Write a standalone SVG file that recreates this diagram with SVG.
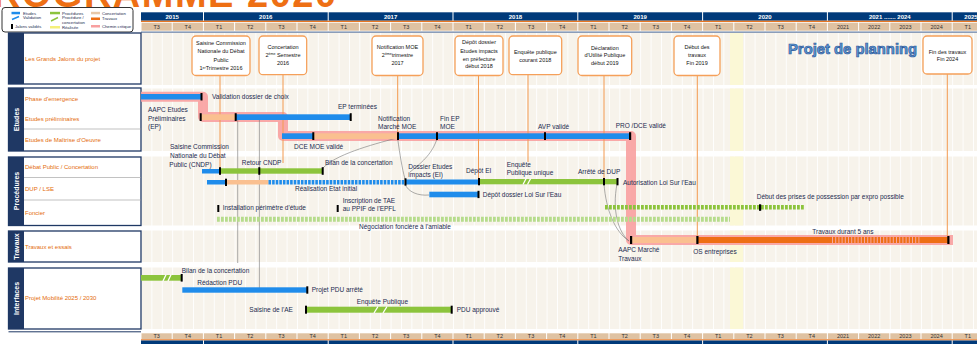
<svg xmlns="http://www.w3.org/2000/svg" width="977" height="344" viewBox="0 0 977 344">
<defs>
<style>
text{font-family:"Liberation Sans",Arial,sans-serif}
.lbl{font-size:6.5px;fill:#1c2b4f}
.sec{font-size:6px;fill:#e46c0a}
.cat{font-size:7px;fill:#fff;font-weight:bold;text-anchor:middle}
.yr{font-size:6px;fill:#fff;font-weight:bold;text-anchor:middle}
.qt{font-size:5.5px;fill:#333;text-anchor:middle}
.box{fill:#fff;stroke:#f5a05a;stroke-width:1.3}
.bt{font-size:5.5px;fill:#111;text-anchor:middle}
.vl{stroke:#f39a50;stroke-width:1;fill:none}
.cn{fill:none;stroke:#777;stroke-width:0.6}
.mk{fill:#000}
.bl{fill:#1f8ceb}
.gr{fill:#8cc43c}
.tn{fill:#fac090}
.or{fill:#ee6f14}
.navy{fill:#003a7a}
.tan{fill:#dfc2a2}
.lg{font-size:4.2px;fill:#1c2b4f}
</style>
<pattern id="grid" x="141" y="0" width="10.4" height="20" patternUnits="userSpaceOnUse">
<rect width="10.4" height="20" fill="#f7f3eb"/>
<rect width="0.9" height="20" fill="#ffffff"/>
</pattern>
<clipPath id="titleclip"><rect x="0" y="0" width="400" height="7.5"/></clipPath>
</defs>
<rect width="977" height="344" fill="#fff"/>

<!-- title (clipped at top) -->
<g clip-path="url(#titleclip)">
<text x="-34" y="7" font-size="38" font-weight="bold" fill="#ee6f14" letter-spacing="1.5">PROGRAMME 2020</text>
</g>

<!-- legend -->
<g id="legend">
<rect x="2" y="7.5" width="131" height="24.5" rx="3" fill="#fff" stroke="#333" stroke-width="1"/>
<rect x="11.5" y="11.8" width="8.5" height="2.5" class="bl"/>
<text x="23" y="14.5" class="lg">Etudes</text>
<path d="M12,19.5 L19,16.5" stroke="#1f8ceb" stroke-width="1.5"/>
<text x="23" y="19.4" class="lg">Validation</text>
<rect x="11" y="24" width="2" height="5" class="mk"/>
<text x="15" y="28.3" class="lg">Jalons validés</text>
<rect x="50" y="11.8" width="10" height="2.5" class="gr"/>
<text x="62" y="14.5" class="lg">Procédures</text>
<path d="M51,21 L58,17.5" stroke="#8cc43c" stroke-width="1.5"/>
<text x="62" y="19.4" class="lg">Procédure /</text>
<text x="62" y="23.6" class="lg">concertation</text>
<rect x="50" y="26" width="10" height="2.5" fill="#f5f07a"/>
<text x="62" y="28.6" class="lg">Réalisée</text>
<rect x="91" y="11.8" width="9" height="2.5" fill="#e8c8a8"/>
<text x="102" y="14.5" class="lg">Concertation</text>
<rect x="91" y="17.5" width="9" height="2.5" class="or"/>
<text x="102" y="20.2" class="lg">Travaux</text>
<rect x="91" y="25" width="9" height="2.5" fill="#f8a0a0"/>
<text x="102" y="27.8" class="lg">Chemin critique</text>
</g>

<!-- header top -->
<g id="header-top">
<rect x="141" y="12.3" width="62" height="8.4" class="navy"/>
<rect x="204" y="12.3" width="123.7" height="8.4" class="navy"/>
<rect x="328.7" y="12.3" width="123.8" height="8.4" class="navy"/>
<rect x="453.5" y="12.3" width="123.8" height="8.4" class="navy"/>
<rect x="578.3" y="12.3" width="123.8" height="8.4" class="navy"/>
<rect x="703.1" y="12.3" width="123.8" height="8.4" class="navy"/>
<rect x="827.9" y="12.3" width="123.8" height="8.4" class="navy"/>
<rect x="952.7" y="12.3" width="30" height="8.4" class="navy"/>
<rect x="141" y="20.7" width="836" height="1.3" fill="#e87722"/>
<text x="172.2" y="18.7" class="yr">2015</text>
<text x="265.8" y="18.7" class="yr">2016</text>
<text x="390.6" y="18.7" class="yr">2017</text>
<text x="515.4" y="18.7" class="yr">2018</text>
<text x="640.2" y="18.7" class="yr">2019</text>
<text x="765" y="18.7" class="yr">2020</text>
<text x="889.8" y="18.7" class="yr">2021 ....... 2024</text>
<text x="971" y="18.7" class="yr">2025</text>
</g>
<g id="quarters-top">
<rect x="141.5" y="22.7" width="30.2" height="8" class="tan"/><rect x="172.7" y="22.7" width="30.2" height="8" class="tan"/>
<rect x="203.9" y="22.7" width="30.2" height="8" class="tan"/><rect x="235.1" y="22.7" width="30.2" height="8" class="tan"/>
<rect x="266.3" y="22.7" width="30.2" height="8" class="tan"/><rect x="297.5" y="22.7" width="30.2" height="8" class="tan"/>
<rect x="328.7" y="22.7" width="30.2" height="8" class="tan"/><rect x="359.9" y="22.7" width="30.2" height="8" class="tan"/>
<rect x="391.1" y="22.7" width="30.2" height="8" class="tan"/><rect x="422.3" y="22.7" width="30.2" height="8" class="tan"/>
<rect x="453.5" y="22.7" width="30.2" height="8" class="tan"/><rect x="484.7" y="22.7" width="30.2" height="8" class="tan"/>
<rect x="515.9" y="22.7" width="30.2" height="8" class="tan"/><rect x="547.1" y="22.7" width="30.2" height="8" class="tan"/>
<rect x="578.3" y="22.7" width="30.2" height="8" class="tan"/><rect x="609.5" y="22.7" width="30.2" height="8" class="tan"/>
<rect x="640.7" y="22.7" width="30.2" height="8" class="tan"/><rect x="671.9" y="22.7" width="30.2" height="8" class="tan"/>
<rect x="703.1" y="22.7" width="30.2" height="8" class="tan"/><rect x="734.3" y="22.7" width="30.2" height="8" class="tan"/>
<rect x="765.5" y="22.7" width="30.2" height="8" class="tan"/><rect x="796.7" y="22.7" width="30.2" height="8" class="tan"/>
<rect x="827.9" y="22.7" width="30.2" height="8" class="tan"/><rect x="859.1" y="22.7" width="30.2" height="8" class="tan"/>
<rect x="890.3" y="22.7" width="30.2" height="8" class="tan"/><rect x="921.5" y="22.7" width="30.2" height="8" class="tan"/>
<rect x="952.7" y="22.7" width="30.2" height="8" class="tan"/>
<text x="156.6" y="28.7" class="qt">T3</text><text x="187.8" y="28.7" class="qt">T4</text>
<text x="219" y="28.7" class="qt">T1</text><text x="250.2" y="28.7" class="qt">T2</text><text x="281.4" y="28.7" class="qt">T3</text><text x="312.6" y="28.7" class="qt">T4</text>
<text x="343.8" y="28.7" class="qt">T1</text><text x="375" y="28.7" class="qt">T2</text><text x="406.2" y="28.7" class="qt">T3</text><text x="437.4" y="28.7" class="qt">T4</text>
<text x="468.6" y="28.7" class="qt">T1</text><text x="499.8" y="28.7" class="qt">T2</text><text x="531" y="28.7" class="qt">T3</text><text x="562.2" y="28.7" class="qt">T4</text>
<text x="593.4" y="28.7" class="qt">T1</text><text x="624.6" y="28.7" class="qt">T2</text><text x="655.8" y="28.7" class="qt">T3</text><text x="687" y="28.7" class="qt">T4</text>
<text x="718.2" y="28.7" class="qt">T1</text><text x="749.4" y="28.7" class="qt">T2</text><text x="780.6" y="28.7" class="qt">T3</text><text x="811.8" y="28.7" class="qt">T4</text>
<text x="843" y="28.7" class="qt">2021</text><text x="874.2" y="28.7" class="qt">2022</text><text x="905.4" y="28.7" class="qt">2023</text><text x="936.6" y="28.7" class="qt">2024</text>
<text x="967.8" y="28.7" class="qt">T1</text>
<rect x="141" y="31.5" width="836" height="1.3" fill="#6f86a8"/>
</g>

<!-- body backgrounds -->
<g id="body">
<rect x="141" y="33" width="836" height="52" fill="url(#grid)"/>
<rect x="141" y="88.5" width="836" height="62.5" fill="url(#grid)"/>
<rect x="141" y="156.5" width="836" height="69" fill="url(#grid)"/>
<rect x="141" y="230.5" width="836" height="31.5" fill="url(#grid)"/>
<rect x="141" y="267.5" width="836" height="61.5" fill="url(#grid)"/>
<rect x="730" y="33" width="13" height="52" fill="#fbf8d6"/>
<rect x="730" y="88.5" width="13" height="62.5" fill="#fbf8d6"/>
<rect x="730" y="156.5" width="13" height="69" fill="#fbf8d6"/>
<rect x="730" y="230.5" width="13" height="31.5" fill="#fbf8d6"/>
<rect x="730" y="267.5" width="13" height="61.5" fill="#fbf8d6"/>
</g>

<!-- left label column -->
<g id="sec-jalons">
<rect x="8.5" y="33" width="132.5" height="51" fill="#fff" stroke="#1f3864" stroke-width="1.3"/>
<rect x="8.5" y="33" width="15.5" height="51" fill="#1f3864"/>
<text x="25" y="61" class="sec">Les Grands Jalons du projet</text>
</g>
<g id="sec-etudes">
<rect x="8.5" y="88" width="132.5" height="63" fill="#fff" stroke="#1f3864" stroke-width="1.3"/>
<rect x="8.5" y="88" width="15.5" height="63" fill="#1f3864"/>
<text transform="translate(18.5,119.5) rotate(-90)" class="cat">Etudes</text>
<line x1="24" y1="129" x2="141" y2="129" stroke="#999" stroke-width="0.6"/>
<text x="25" y="101" class="sec">Phase d'emergence</text>
<text x="25" y="121" class="sec">Etudes préliminaires</text>
<text x="25" y="142" class="sec">Etudes de Maîtrise d'Oeuvre</text>
</g>
<g id="sec-procedures">
<rect x="8.5" y="157" width="132.5" height="68.5" fill="#fff" stroke="#1f3864" stroke-width="1.3"/>
<rect x="8.5" y="157" width="15.5" height="68.5" fill="#1f3864"/>
<text transform="translate(18.5,191) rotate(-90)" class="cat">Procédures</text>
<line x1="24" y1="177.5" x2="141" y2="177.5" stroke="#999" stroke-width="0.6"/>
<line x1="24" y1="200" x2="141" y2="200" stroke="#999" stroke-width="0.6"/>
<text x="25" y="169" class="sec">Débat Public / Concertation</text>
<text x="25" y="190.5" class="sec">DUP / LSE</text>
<text x="25" y="215" class="sec">Foncier</text>
</g>
<g id="sec-travaux">
<rect x="8.5" y="231" width="132.5" height="31" fill="#fff" stroke="#1f3864" stroke-width="1.3"/>
<rect x="8.5" y="231" width="15.5" height="31" fill="#1f3864"/>
<text transform="translate(18.5,246.5) rotate(-90)" class="cat">Travaux</text>
<text x="25" y="249" class="sec">Travaux et essais</text>
</g>
<g id="sec-interfaces">
<rect x="8.5" y="268" width="132.5" height="61" fill="#fff" stroke="#1f3864" stroke-width="1.3"/>
<rect x="8.5" y="268" width="15.5" height="61" fill="#1f3864"/>
<text transform="translate(18.5,298.5) rotate(-90)" class="cat">Interfaces</text>
<text x="25" y="300" class="sec">Projet Mobilité 2025 / 2030</text>
</g>
<rect x="8.5" y="331.3" width="132.5" height="1" fill="#1f3864"/>

<!-- header bottom -->
<g id="header-bottom">
<rect x="141.5" y="333.3" width="30.2" height="5.8" class="tan"/><rect x="172.7" y="333.3" width="30.2" height="5.8" class="tan"/>
<rect x="203.9" y="333.3" width="30.2" height="5.8" class="tan"/><rect x="235.1" y="333.3" width="30.2" height="5.8" class="tan"/>
<rect x="266.3" y="333.3" width="30.2" height="5.8" class="tan"/><rect x="297.5" y="333.3" width="30.2" height="5.8" class="tan"/>
<rect x="328.7" y="333.3" width="30.2" height="5.8" class="tan"/><rect x="359.9" y="333.3" width="30.2" height="5.8" class="tan"/>
<rect x="391.1" y="333.3" width="30.2" height="5.8" class="tan"/><rect x="422.3" y="333.3" width="30.2" height="5.8" class="tan"/>
<rect x="453.5" y="333.3" width="30.2" height="5.8" class="tan"/><rect x="484.7" y="333.3" width="30.2" height="5.8" class="tan"/>
<rect x="515.9" y="333.3" width="30.2" height="5.8" class="tan"/><rect x="547.1" y="333.3" width="30.2" height="5.8" class="tan"/>
<rect x="578.3" y="333.3" width="30.2" height="5.8" class="tan"/><rect x="609.5" y="333.3" width="30.2" height="5.8" class="tan"/>
<rect x="640.7" y="333.3" width="30.2" height="5.8" class="tan"/><rect x="671.9" y="333.3" width="30.2" height="5.8" class="tan"/>
<rect x="703.1" y="333.3" width="30.2" height="5.8" class="tan"/><rect x="734.3" y="333.3" width="30.2" height="5.8" class="tan"/>
<rect x="765.5" y="333.3" width="30.2" height="5.8" class="tan"/><rect x="796.7" y="333.3" width="30.2" height="5.8" class="tan"/>
<rect x="827.9" y="333.3" width="30.2" height="5.8" class="tan"/><rect x="859.1" y="333.3" width="30.2" height="5.8" class="tan"/>
<rect x="890.3" y="333.3" width="30.2" height="5.8" class="tan"/><rect x="921.5" y="333.3" width="30.2" height="5.8" class="tan"/>
<rect x="952.7" y="333.3" width="30.2" height="5.8" class="tan"/>
<text x="156.6" y="338" class="qt">T3</text><text x="187.8" y="338" class="qt">T4</text>
<text x="219" y="338" class="qt">T1</text><text x="250.2" y="338" class="qt">T2</text><text x="281.4" y="338" class="qt">T3</text><text x="312.6" y="338" class="qt">T4</text>
<text x="343.8" y="338" class="qt">T1</text><text x="375" y="338" class="qt">T2</text><text x="406.2" y="338" class="qt">T3</text><text x="437.4" y="338" class="qt">T4</text>
<text x="468.6" y="338" class="qt">T1</text><text x="499.8" y="338" class="qt">T2</text><text x="531" y="338" class="qt">T3</text><text x="562.2" y="338" class="qt">T4</text>
<text x="593.4" y="338" class="qt">T1</text><text x="624.6" y="338" class="qt">T2</text><text x="655.8" y="338" class="qt">T3</text><text x="687" y="338" class="qt">T4</text>
<text x="718.2" y="338" class="qt">T1</text><text x="749.4" y="338" class="qt">T2</text><text x="780.6" y="338" class="qt">T3</text><text x="811.8" y="338" class="qt">T4</text>
<text x="843" y="338" class="qt">2021</text><text x="874.2" y="338" class="qt">2022</text><text x="905.4" y="338" class="qt">2023</text><text x="936.6" y="338" class="qt">2024</text>
<text x="967.8" y="338" class="qt">T1</text>
<rect x="141" y="339.3" width="836" height="1.1" fill="#e87722"/>
<rect x="141" y="340.5" width="62" height="4" class="navy"/>
<rect x="204" y="340.5" width="123.7" height="4" class="navy"/>
<rect x="328.7" y="340.5" width="123.8" height="4" class="navy"/>
<rect x="453.5" y="340.5" width="123.8" height="4" class="navy"/>
<rect x="578.3" y="340.5" width="123.8" height="4" class="navy"/>
<rect x="703.1" y="340.5" width="123.8" height="4" class="navy"/>
<rect x="827.9" y="340.5" width="123.8" height="4" class="navy"/>
<rect x="952.7" y="340.5" width="30" height="4" class="navy"/>
</g>

<text x="788" y="54" font-size="14.8" font-weight="bold" fill="#5b9bd5" stroke="#2f5597" stroke-width="0.7">Projet de planning</text>

<!-- critical path halo -->
<path d="M141,96.7 H203 V117 H283 V136 H631 V240 H953" fill="none" stroke="#f8a0a0" stroke-width="10" stroke-linejoin="round" opacity="0.9"/>

<!-- connectors -->
<g id="connectors">
<line x1="220" y1="75.5" x2="220" y2="168" class="vl"/>
<line x1="283" y1="75" x2="283" y2="163" class="vl"/>
<line x1="397.7" y1="75.5" x2="397.7" y2="134" class="vl"/>
<line x1="478.5" y1="75.5" x2="478.5" y2="179" class="vl"/>
<line x1="528" y1="75" x2="528" y2="162" class="vl"/>
<line x1="604" y1="75.5" x2="604" y2="179" class="vl"/>
<line x1="697.3" y1="75.5" x2="697.3" y2="236" class="vl"/>
<line x1="947.3" y1="74" x2="947.3" y2="236" class="vl"/>
<line x1="237.7" y1="120" x2="237.7" y2="263" class="cn"/>
<line x1="259.4" y1="120" x2="259.4" y2="288" class="cn"/>
<path d="M323,168 C335,155 370,145 397,138" class="cn"/>
<path d="M397.7,139 C400,155 402,168 405,179" class="cn"/>
<path d="M437,139 C433,150 428,158 410,172" class="cn"/>
<path d="M405,184 C408,192 418,196 429,195" class="cn"/>
<path d="M604,184 C606,210 615,232 629,241" class="cn"/>
<path d="M617,184 C612,210 618,232 629,241" class="cn"/>
</g>

<!-- milestone boxes -->
<g id="jalon1">
<rect x="192" y="36" width="58" height="39.5" rx="4" class="box"/>
<text x="221" y="45" class="bt">Saisine Commission</text>
<text x="221" y="53.3" class="bt">Nationale du Débat</text>
<text x="221" y="61.7" class="bt">Public</text>
<text x="221" y="70" class="bt">1<tspan font-size="3.5" dy="-1.5">er</tspan><tspan dy="1.5">Trimestre 2016</tspan></text>
</g>
<g id="jalon2">
<rect x="259" y="36" width="47.7" height="38.7" rx="4" class="box"/>
<text x="283" y="49" class="bt">Concertation</text>
<text x="283" y="56.7" class="bt">2<tspan font-size="3.5" dy="-1.5">ème</tspan><tspan dy="1.5"> Semestre</tspan></text>
<text x="283" y="65.3" class="bt">2016</text>
</g>
<g id="jalon3">
<rect x="372" y="36" width="51" height="39.5" rx="4" class="box"/>
<text x="397.5" y="49" class="bt">Notification MOE</text>
<text x="397.5" y="56.7" class="bt">2<tspan font-size="3.5" dy="-1.5">ème</tspan><tspan dy="1.5">trimestre</tspan></text>
<text x="397.5" y="65.3" class="bt">2017</text>
</g>
<g id="jalon4">
<rect x="455" y="36" width="48" height="39.5" rx="4" class="box"/>
<text x="479" y="44.3" class="bt">Dépôt dossier</text>
<text x="479" y="53.3" class="bt">Etudes impacts</text>
<text x="479" y="61" class="bt">en préfecture</text>
<text x="479" y="68.3" class="bt">début 2018</text>
</g>
<g id="jalon5">
<rect x="509" y="36" width="52.7" height="38.7" rx="4" class="box"/>
<text x="535.3" y="54" class="bt">Enquête publique</text>
<text x="535.3" y="61.7" class="bt">courant 2018</text>
</g>
<g id="jalon6">
<rect x="578" y="36" width="53.7" height="39.5" rx="4" class="box"/>
<text x="604.8" y="50" class="bt">Déclaration</text>
<text x="604.8" y="57.3" class="bt">d'Utilité Publique</text>
<text x="604.8" y="65" class="bt">début 2019</text>
</g>
<g id="jalon7">
<rect x="674" y="36" width="46" height="39.5" rx="4" class="box"/>
<text x="697" y="49" class="bt">Début des</text>
<text x="697" y="57.3" class="bt">travaux</text>
<text x="697" y="65" class="bt">Fin 2019</text>
</g>
<g id="jalon8">
<rect x="923" y="36" width="49" height="38" rx="4" class="box"/>
<text x="947.5" y="54" class="bt">Fin des travaux</text>
<text x="947.5" y="61" class="bt">Fin 2024</text>
</g>

<!-- Etudes -->
<g id="row-emergence">
<rect x="141" y="94" width="61" height="5.5" class="bl"/>
<rect x="200.5" y="93" width="2" height="7.5" class="mk"/>
<text x="212" y="99" class="lbl">Validation dossier de choix</text>
</g>
<g id="row-ep">
<rect x="200.5" y="114.3" width="35" height="5.7" class="tn"/>
<rect x="235.5" y="114.3" width="115.5" height="5.7" class="bl"/>
<rect x="199.7" y="113.2" width="2" height="7.8" class="mk"/>
<rect x="234.7" y="113.2" width="2" height="7.8" class="mk"/>
<rect x="349.7" y="113.2" width="2" height="7.8" class="mk"/>
<text x="148" y="112" class="lbl">AAPC Etudes</text>
<text x="148" y="120.5" class="lbl">Préliminaires</text>
<text x="148" y="129" class="lbl">(EP)</text>
<text x="338" y="109" class="lbl">EP terminées</text>
</g>
<g id="row-moe">
<rect x="282" y="133.3" width="31.3" height="5.7" class="bl"/>
<rect x="313.3" y="133.3" width="84.7" height="5.7" class="tn"/>
<rect x="398" y="133.3" width="232" height="5.7" class="bl"/>
<rect x="312.3" y="132.2" width="2" height="7.8" class="mk"/>
<rect x="397" y="132.2" width="2" height="7.8" class="mk"/>
<rect x="436" y="132.2" width="2" height="7.8" class="mk"/>
<rect x="544" y="132.2" width="2" height="7.8" class="mk"/>
<rect x="629" y="132.2" width="2.2" height="7.8" class="mk"/>
<text x="378" y="121" class="lbl">Notification</text>
<text x="378" y="129.3" class="lbl">Marché MOE</text>
<text x="440" y="121" class="lbl">Fin EP</text>
<text x="440" y="129.3" class="lbl">MOE</text>
<text x="294" y="148.5" class="lbl">DCE MOE validé</text>
<text x="538" y="129" class="lbl">AVP validé</text>
<text x="615.7" y="127.7" class="lbl">PRO /DCE validé</text>
</g>

<!-- Procedures -->
<g id="row-debat">
<rect x="202" y="169" width="18" height="4.5" class="bl"/>
<rect x="220" y="168.3" width="103" height="5.4" class="gr"/>
<rect x="219" y="167.2" width="2" height="7.6" class="mk"/>
<rect x="258.3" y="167.2" width="2" height="7.6" class="mk"/>
<rect x="321.7" y="167.2" width="2" height="7.6" class="mk"/>
<text x="170" y="149.3" class="lbl">Saisine Commission</text>
<text x="170" y="158" class="lbl">Nationale du Débat</text>
<text x="169.3" y="167" class="lbl">Public (CNDP)</text>
<text x="241.7" y="164.5" class="lbl">Retour CNDP</text>
<text x="325" y="165" class="lbl">Bilan de la concertation</text>
</g>
<g id="row-dup">
<rect x="207" y="180" width="19" height="4.5" class="bl"/>
<rect x="226" y="180" width="42.5" height="4.5" class="tn"/>
<line x1="268.5" y1="182.25" x2="405" y2="182.25" stroke="#1f8ceb" stroke-width="4.5" stroke-dasharray="2.6 1"/>
<rect x="405" y="179.5" width="74" height="5" class="bl"/>
<rect x="479" y="179" width="139" height="5.3" class="gr"/>
<line x1="523" y1="184.5" x2="526" y2="178.8" stroke="#fff" stroke-width="1.3"/>
<line x1="527.5" y1="184.5" x2="530.5" y2="178.8" stroke="#fff" stroke-width="1.3"/>
<rect x="225" y="178.7" width="2" height="7.3" class="mk"/>
<rect x="404.5" y="178.3" width="2" height="7.3" class="mk"/>
<rect x="478" y="178" width="2" height="7.3" class="mk"/>
<rect x="603" y="178" width="2" height="7.3" class="mk"/>
<rect x="616.5" y="178" width="2" height="7.3" class="mk"/>
<text x="295" y="190.5" class="lbl">Réalisation Etat initial</text>
<text x="408.3" y="168.5" class="lbl">Dossier Etudes</text>
<text x="408.3" y="177" class="lbl">impacts (EI)</text>
<text x="466" y="172.5" class="lbl">Dépôt EI</text>
<text x="506.7" y="166.7" class="lbl">Enquête</text>
<text x="506.7" y="174.5" class="lbl">Publique unique</text>
<text x="578" y="173.5" class="lbl">Arrêté de DUP</text>
<text x="623" y="185.3" class="lbl">Autorisation Loi Sur l'Eau</text>
<rect x="429.3" y="191.7" width="49.2" height="5.6" class="bl"/>
<rect x="477.5" y="190.8" width="2" height="7.3" class="mk"/>
<text x="482.7" y="197.3" class="lbl">Dépôt dossier Loi Sur l'Eau</text>
</g>
<g id="row-foncier">
<rect x="217.3" y="205" width="2" height="7" class="mk"/>
<text x="222.7" y="210.3" class="lbl">Installation périmètre d'étude</text>
<rect x="336.7" y="205" width="2" height="7" class="mk"/>
<text x="342.7" y="202.7" class="lbl">Inscription de TAE</text>
<text x="342.7" y="211" class="lbl">au PPIF de l'EPFL</text>
<line x1="217" y1="219.2" x2="730" y2="219.2" stroke="#b6dc8c" stroke-width="5" stroke-dasharray="2.8 1.2"/>
<text x="359" y="229" class="lbl">Négociation foncière à l'amiable</text>
<line x1="605" y1="207.3" x2="805" y2="207.3" stroke="#8cc43c" stroke-width="4.5" stroke-dasharray="2.8 1.2"/>
<rect x="759" y="204.3" width="2.2" height="6.5" class="mk"/>
<text x="756.7" y="198.5" class="lbl">Début des prises de possession par expro possible</text>
</g>

<!-- Travaux -->
<g id="row-travaux">
<rect x="631" y="237" width="66.3" height="6" class="tn"/>
<rect x="697.3" y="237" width="251" height="6" class="or"/>
<line x1="832" y1="240" x2="920" y2="240" stroke="#f7a7a0" stroke-width="6" stroke-dasharray="1 2.2"/>
<rect x="630" y="236" width="2.2" height="8" class="mk"/>
<rect x="696.3" y="236" width="2.2" height="8" class="mk"/>
<rect x="947.3" y="236" width="2.2" height="8" class="mk"/>
<text x="812.3" y="234.3" class="lbl">Travaux durant 5 ans</text>
<text x="618.3" y="252" class="lbl">AAPC Marché</text>
<text x="618.3" y="260.7" class="lbl">Travaux</text>
<text x="693.3" y="254.3" class="lbl">OS entreprises</text>
</g>

<!-- Interfaces -->
<g id="row-pdu">
<rect x="141" y="275" width="40.7" height="5.7" class="gr"/>
<line x1="163" y1="281" x2="166" y2="274.8" stroke="#fff" stroke-width="1.3"/>
<line x1="168" y1="281" x2="171" y2="274.8" stroke="#fff" stroke-width="1.3"/>
<rect x="180.7" y="274" width="2" height="7.6" class="mk"/>
<text x="181.7" y="273.3" class="lbl">Bilan de la concertation</text>
<text x="197.3" y="285" class="lbl">Rédaction PDU</text>
<rect x="182.3" y="287.3" width="125" height="5.4" class="bl"/>
<rect x="306.3" y="286.3" width="2" height="7.4" class="mk"/>
<text x="311.7" y="292" class="lbl">Projet PDU arrêté</text>
<text x="249.3" y="311.8" class="lbl">Saisine de l'AE</text>
<rect x="305.7" y="306.7" width="146" height="6" class="gr"/>
<line x1="374" y1="313" x2="378" y2="306.5" stroke="#fff" stroke-width="1.3"/>
<line x1="383" y1="313" x2="387" y2="306.5" stroke="#fff" stroke-width="1.3"/>
<rect x="305" y="305.7" width="2" height="8" class="mk"/>
<rect x="450.7" y="305.7" width="2" height="8" class="mk"/>
<text x="356.7" y="304" class="lbl">Enquête Publique</text>
<text x="456.7" y="311.8" class="lbl">PDU approuvé</text>
</g>
</svg>
